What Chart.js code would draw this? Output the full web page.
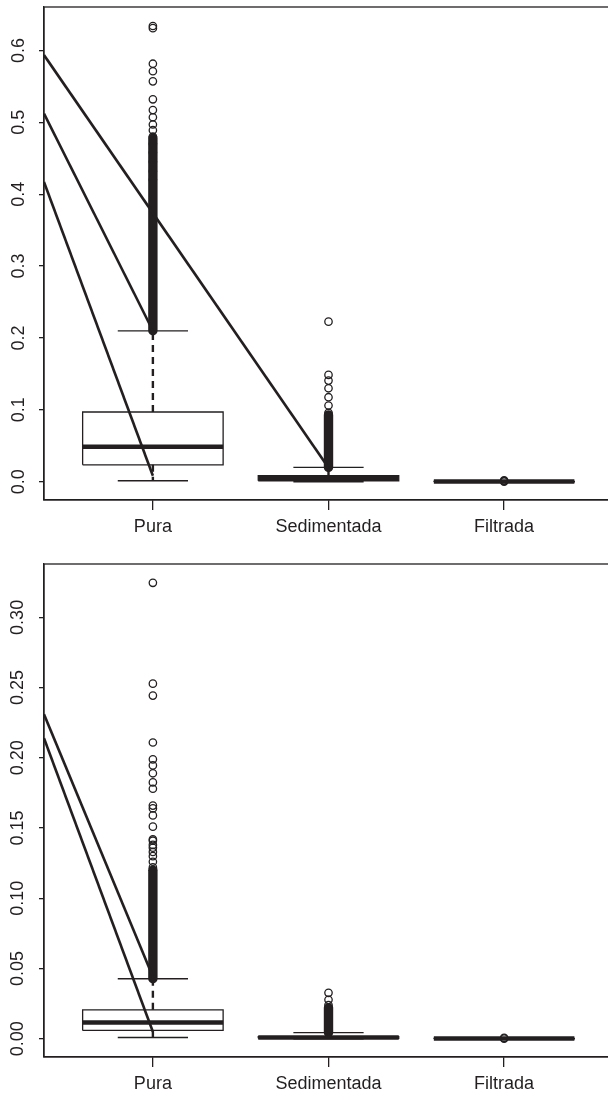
<!DOCTYPE html>
<html>
<head>
<meta charset="utf-8">
<script src="https://cdn.jsdelivr.net/npm/chart.js@4.4.0/dist/chart.umd.min.js"></script>
<style>
  html, body { margin: 0; padding: 0; background: #fff; overflow: hidden; }
  body { width: 608px; height: 1097px; position: relative; }
  canvas { position: absolute; left: 0; }
  #topChart { top: 0; }
  #bottomChart { top: 556px; }
</style>
</head>
<body>
<canvas id="topChart" width="620" height="540"></canvas>
<canvas id="bottomChart" width="620" height="541"></canvas>
<script>
const categories = ['Pura', 'Sedimentada', 'Filtrada'];
const positions = [1, 2, 3];
const xMin = 0.38;
const xMax = 3.62;

// top panel: box statistics per category
const topLower = [0.0014, 0.0000, 0.0000];
const topQ1 = [0.0236, 0.0014, 0.0000];
const topMedian = [0.0487, 0.0048, 0.0002];
const topQ3 = [0.0970, 0.0083, 0.0004];
const topUpper = [0.2100, 0.0199, 0.0008];
// runs of overlapping outliers that print as a solid column [from, to]
const topDense = [[0.2100, 0.4780], [0.0199, 0.0930], null];
const topOutliers = [
    [0.420, 0.432, 0.445, 0.458, 0.470, 0.480, 0.489, 0.497, 0.507, 0.517, 0.532, 0.557, 0.571, 0.5815, 0.631, 0.634],
    [0.0770, 0.0958, 0.1060, 0.1176, 0.1300, 0.1407, 0.1486, 0.2227],
    [0.0002, 0.0010, 0.0018]
];
const topLineStartY = [0.5935, 0.512, 0.417];
const topLineEndX = [2, 1, 1];
const topLineEndY = [0.0194, 0.210, 0.0083];
const topTicks = [0, 0.1, 0.2, 0.3, 0.4, 0.5, 0.6];

// bottom panel
const botLower = [0.0009, 0.0000, 0.0000];
const botQ1 = [0.0059, 0.0003, 0.0000];
const botMedian = [0.0116, 0.0008, 0.0001];
const botQ3 = [0.0206, 0.0015, 0.0002];
const botUpper = [0.0427, 0.0043, 0.0004];
const botDense = [[0.0427, 0.1200], [0.0043, 0.0220], null];
const botOutliers = [
    [0.122, 0.126, 0.130, 0.133, 0.136, 0.138, 0.141, 0.142, 0.151, 0.159, 0.164, 0.166, 0.178, 0.1825, 0.189, 0.1946, 0.1989, 0.2109, 0.2443, 0.2528, 0.3246],
    [0.0240, 0.0277, 0.0327],
    [0.0001, 0.0006]
];
const botLineStartY = [0.231, 0.214];
const botLineEndX = [1, 1];
const botLineEndY = [0.0441, 0.005];
const botTicks = [0, 0.05, 0.10, 0.15, 0.20, 0.25, 0.30];

const ink = '#231f20';
const fontFamily = '"Liberation Sans", Arial, Helvetica, sans-serif';

function seg(points, width, dash, cap) {
    return {
        data: points.map(p => ({ x: p[0], y: p[1] })),
        showLine: true,
        borderColor: ink,
        backgroundColor: ink,
        borderWidth: width,
        borderDash: dash || [],
        borderCapStyle: cap || 'butt',
        borderJoinStyle: 'miter',
        pointRadius: 0,
        pointHoverRadius: 0,
        tension: 0,
        fill: false
    };
}

function buildDatasets(lower, q1, median, q3, upper, dense, outliers, lineStartY, lineEndX, lineEndY) {
    const sets = [];
    // straight lines drawn over the plot, starting at the left edge
    lineStartY.forEach((y, i) => {
        sets.push(seg([[xMin, y], [lineEndX[i], lineEndY[i]]], 2.6));
    });
    positions.forEach((x, i) => {
        sets.push(seg([[x - 0.4, median[i]], [x + 0.4, median[i]]], 4.5));
        sets.push(seg([[x - 0.4, q1[i]], [x + 0.4, q1[i]], [x + 0.4, q3[i]], [x - 0.4, q3[i]], [x - 0.4, q1[i]]], 1.3));
        sets.push(seg([[x, q3[i]], [x, upper[i]]], 2.4, [7, 5]));
        sets.push(seg([[x, q1[i]], [x, lower[i]]], 2.4, [7, 5]));
        sets.push(seg([[x - 0.2, upper[i]], [x + 0.2, upper[i]]], 1.3));
        sets.push(seg([[x - 0.2, lower[i]], [x + 0.2, lower[i]]], 1.3));
        if (dense[i]) {
            sets.push(seg([[x, dense[i][0]], [x, dense[i][1]]], 9.4, null, 'round'));
        }
        sets.push({
            data: outliers[i].map(v => ({ x: x, y: v })),
            showLine: false,
            pointStyle: 'circle',
            pointRadius: 3.7,
            pointHoverRadius: 3.7,
            pointBorderWidth: 1.3,
            borderColor: ink,
            backgroundColor: 'rgba(0,0,0,0)'
        });
    });
    return sets;
}

const frame = {
    id: 'frame',
    afterDraw(chart) {
        const a = chart.chartArea;
        const ctx = chart.ctx;
        ctx.save();
        ctx.strokeStyle = ink;
        ctx.lineWidth = 1.3;
        ctx.strokeRect(a.left, a.top, a.right - a.left, a.bottom - a.top);
        ctx.restore();
    }
};

function makeChart(id, datasets, yMin, yMax, yTicks, decimals, labelPad, padTop) {
    return new Chart(document.getElementById(id), {
        type: 'scatter',
        data: { datasets: datasets },
        plugins: [frame],
        options: {
            responsive: false,
            animation: false,
            events: [],
            layout: { padding: { top: padTop, right: 7, left: 0, bottom: 0 } },
            plugins: { legend: { display: false }, tooltip: { enabled: false } },
            scales: {
                x: {
                    type: 'linear',
                    min: xMin,
                    max: xMax,
                    afterBuildTicks: axis => { axis.ticks = positions.map(v => ({ value: v })); },
                    afterFit: axis => {
                        axis.height = 40;
                        axis.paddingLeft = 0;
                        axis.paddingRight = 0;
                    },
                    grid: { display: true, drawOnChartArea: false, drawTicks: true, tickLength: 10, color: ink, lineWidth: 1.3 },
                    border: { display: true, color: ink, width: 1.3 },
                    ticks: {
                        autoSkip: false,
                        maxRotation: 0,
                        padding: 6,
                        color: ink,
                        font: { family: fontFamily, size: 18 },
                        callback: v => categories[positions.indexOf(v)]
                    }
                },
                y: {
                    type: 'linear',
                    min: yMin,
                    max: yMax,
                    afterBuildTicks: axis => { axis.ticks = yTicks.map(v => ({ value: v })); },
                    afterFit: axis => {
                        axis.width = 44;
                        axis.paddingTop = 0;
                        axis.paddingBottom = 0;
                    },
                    grid: { display: true, drawOnChartArea: false, drawTicks: true, tickLength: 5, color: ink, lineWidth: 1.3 },
                    border: { display: true, color: ink, width: 1.3 },
                    ticks: {
                        minRotation: 90,
                        maxRotation: 90,
                        crossAlign: 'center',
                        padding: labelPad,
                        color: ink,
                        font: { family: fontFamily, size: 18 },
                        callback: v => Number(v).toFixed(decimals)
                    }
                }
            }
        }
    });
}

makeChart('topChart',
    buildDatasets(topLower, topQ1, topMedian, topQ3, topUpper, topDense, topOutliers, topLineStartY, topLineEndX, topLineEndY),
    -0.0254, 0.6604, topTicks, 1, 7, 7);

makeChart('bottomChart',
    buildDatasets(botLower, botQ1, botMedian, botQ3, botUpper, botDense, botOutliers, botLineStartY, botLineEndX, botLineEndY),
    -0.013, 0.338, botTicks, 2, 3.5, 8);
</script>
</body>
</html>
